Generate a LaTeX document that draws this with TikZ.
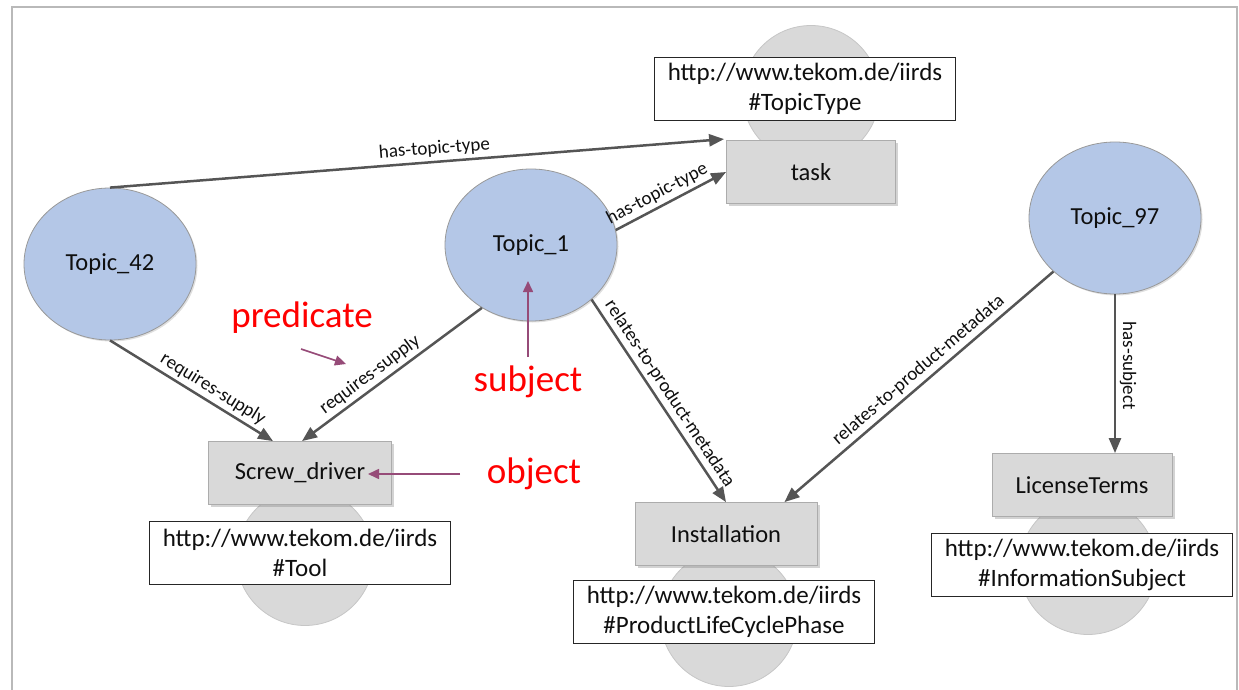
\documentclass[tikz,border=0pt]{standalone}
\usepackage{fontspec}
\setmainfont{Carlito}
\usetikzlibrary{arrows.meta,shadows,calc,shapes.geometric}
\definecolor{topicblue}{RGB}{180,199,231}
\definecolor{boxgray}{RGB}{217,217,217}
\definecolor{edgegray}{RGB}{85,85,85}
\definecolor{annot}{RGB}{150,75,120}
\definecolor{annred}{RGB}{255,0,0}
\definecolor{txt}{RGB}{15,15,15}
\begin{document}
\begin{tikzpicture}[x=1pt,y=-1pt,
  every node/.style={text=txt},
  topic/.style={ellipse, draw=gray!80, line width=0.8pt, fill=topicblue,
    minimum width=172pt, minimum height=152pt, inner sep=0pt,
    font=\fontsize{24.5}{29}\selectfont,
    drop shadow={shadow xshift=1.5pt, shadow yshift=-1.5pt, opacity=0.25}},
  classcirc/.style={circle, draw=gray!45, line width=0.8pt, fill=boxgray,
    minimum size=137pt, inner sep=0pt},
  classbox/.style={rectangle, draw=gray!65, line width=0.8pt, fill=boxgray,
    minimum height=63pt, inner sep=0pt, font=\fontsize{24.5}{29}\selectfont,
    drop shadow={shadow xshift=2.5pt, shadow yshift=-2.5pt, opacity=0.35}},
  urlbox/.style={rectangle, draw=black!85, line width=0.9pt, fill=white,
    minimum width=301pt, minimum height=63pt, inner sep=0pt, align=center,
    font=\fontsize{25}{29.5}\selectfont},
  rel/.style={draw=edgegray, line width=2.5pt,
    -{Triangle[length=15pt,width=12pt]}},
  rellabel/.style={sloped, above, inner sep=3.5pt, font=\fontsize{19}{22}\selectfont},
  annarrow/.style={draw=annot, line width=1.6pt,
    -{Triangle[length=11pt,width=10pt]}},
  anntext/.style={text=annred, font=\fontsize{37}{41}\selectfont, inner sep=0pt}
]
\useasboundingbox (0,0) rectangle (1239,690);
% frame
\draw[gray!55, line width=1.5pt] (12,700) -- (12,7) -- (1237,7) -- (1237,700);

% gray class circles
\node[classcirc] (c1) at (811,94) {};
\node[classcirc] (c2) at (305,557) {};
\node[classcirc] (c3) at (729,618) {};
\node[classcirc] (c4) at (1088,566) {};

% url boxes
\node[urlbox] (u1) at (805,89) {http://www.tekom.de/iirds\\\#TopicType};
\node[urlbox] (u2) at (300,553) {http://www.tekom.de/iirds\\\#Tool};
\node[urlbox] (u3) at (724,612) {http://www.tekom.de/iirds\\\#ProductLifeCyclePhase};
\node[urlbox] (u4) at (1082,565) {http://www.tekom.de/iirds\\\#InformationSubject};

% class boxes
\node[classbox, minimum width=169pt] (task) at (811,172) {task};
\node[classbox, minimum width=183pt] (sd) at (300,473) {Screw\_driver};
\node[classbox, minimum width=182pt] (inst) at (726,534) {Installation};
\node[classbox, minimum width=180pt] (lt) at (1082,485) {LicenseTerms};

% topics
\node[topic] (t42) at (110,264) {Topic\_42};
\node[topic] (t1) at (531,245) {Topic\_1};
\node[topic] (t97) at (1115,218) {Topic\_97};

% relations
\draw[rel] (t42.north) -- ($(task.north west)+(-2,-1)$)
  node[rellabel, pos=0.53] {has-topic-type};
\draw[rel] (t1.10) -- (task.west)
  node[rellabel, pos=0.43] {has-topic-type};
\draw[rel] (t42.south) -- ($(sd.north)+(-27,0)$)
  node[rellabel, pos=0.59] {requires-supply};
\draw[rel] (t1.232) -- ($(sd.north)+(2,0)$)
  node[rellabel, pos=0.58] {requires-supply};
\draw[rel] (t1.318) -- (inst.north)
  node[rellabel, pos=0.5] {relates-to-product-metadata};
\draw[rel] (t97.221) -- ($(inst.north east)+(-33,0)$)
  node[rellabel, pos=0.47] {relates-to-product-metadata};
\draw[rel] (t97.south) -- (t97.south |- lt.north)
  node[rellabel, pos=0.45] {has-subject};

% annotations
\node[anntext] (pred) at (302,318) {predicate};
\node[anntext] (subj) at (528,382) {subject};
\node[anntext] (obj) at (534,474) {object};
\coordinate (predfrom) at (301,349);
\coordinate (predto) at (346,364);
\coordinate (subjfrom) at (528,357);
\coordinate (subjto) at (528,281);
\coordinate (objfrom) at (460,474);
\coordinate (objto) at (368,474);
\draw[annarrow] (predfrom) -- (predto);
\draw[annarrow] (subjfrom) -- (subjto);
\draw[annarrow] (objfrom) -- (objto);
\end{tikzpicture}
\end{document}
